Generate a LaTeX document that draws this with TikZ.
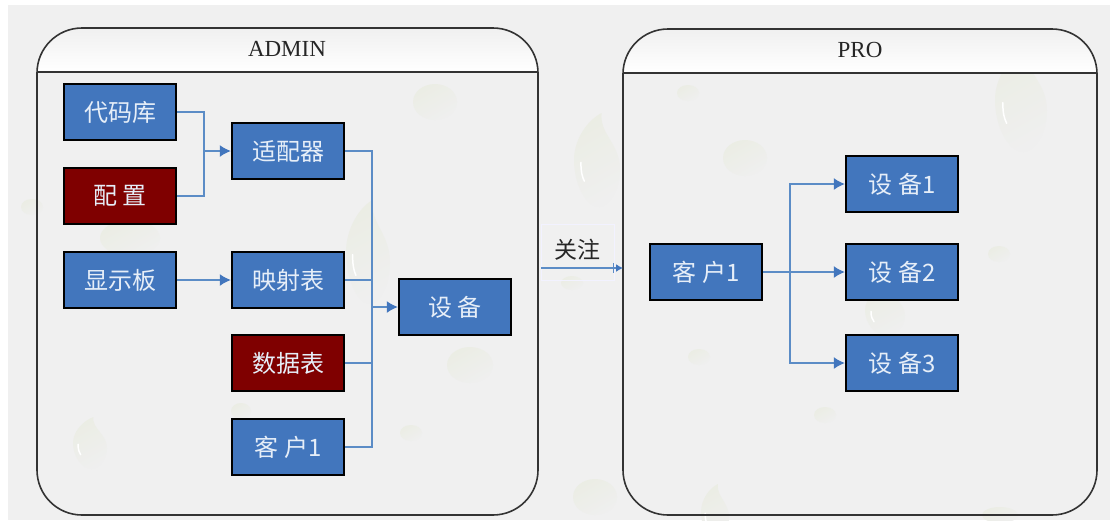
\documentclass[tikz,border=0pt]{standalone}
\usepackage{fontspec}
\setmainfont{Liberation Serif}
\newfontfamily\cjk{Noto Sans CJK SC}
\usetikzlibrary{arrows.meta}
\definecolor{pagegray}{HTML}{F0F0F0}
\definecolor{boxblue}{HTML}{4276BD}
\definecolor{boxred}{HTML}{7F0000}
\definecolor{linkblue}{HTML}{5B8CC6}
\definecolor{leaf}{HTML}{EBEDE4}
\definecolor{leafend}{HTML}{EFEFEF}
\definecolor{panelline}{HTML}{333333}
\definecolor{boxtext}{HTML}{E6EEF8}
\tikzset{
  x=1pt,y=-1pt,
  boxbase/.style={draw=black,line width=2.4pt,minimum width=112pt,minimum height=56pt,inner sep=0pt,text=boxtext,font=\cjk\fontsize{24}{24}\selectfont},
  bluebox/.style={boxbase,fill=boxblue},
  redbox/.style={boxbase,fill=boxred},
  link/.style={draw=linkblue,line width=1.4pt},
  arrowlink/.style={link,-{Latex[length=11pt,width=12pt,color=boxblue]}},
  paneltitle/.style={font=\fontsize{23}{23}\selectfont,text=black!85,inner sep=0pt},
  panelborder/.style={panelline,line width=1.6pt},
  dropfill/.style={left color=leaf,right color=leafend,shading angle=30,draw=none}
}
\newcommand{\blobdrop}[4]{\path[dropfill] (#1,#2) ellipse [x radius=#3, y radius=#4];}
\newcommand{\teardrop}[4]{%
  \begin{scope}[shift={(#1,#2)},x=#3pt,y=-#4pt]
    \path[dropfill] (0.2,-1) .. controls (0.1,-0.55) and (1,-0.35) .. (1,0.2)
      .. controls (1,0.7) and (0.45,1) .. (0.1,1)
      .. controls (-0.5,1) and (-1,0.5) .. (-1,0)
      .. controls (-1,-0.45) and (-0.4,-0.85) .. (0.2,-1) -- cycle;
    \draw[white,line width=1.5pt,line cap=round] (-0.7,0.05) .. controls (-0.7,0.25) and (-0.65,0.35) .. (-0.55,0.45);
  \end{scope}}
\begin{document}
\begin{tikzpicture}
\useasboundingbox (0,0) rectangle (1110,520);
\fill[white] (0,0) rectangle (1110,520);
\fill[pagegray] (8,5) rectangle (1110,520);
% droplets
\blobdrop{435}{102}{22}{18}
\blobdrop{745}{158}{22}{18}
\blobdrop{688}{93}{11}{8}
\blobdrop{130}{238}{30}{18}
\blobdrop{470}{365}{23}{18}
\blobdrop{411}{433}{11}{8}
\blobdrop{595}{497}{22}{18}
\blobdrop{825}{415}{11}{8}
\blobdrop{699}{357}{11}{8}
\blobdrop{999}{254}{11}{8}
\blobdrop{32}{207}{11}{8}
\blobdrop{572}{283}{11}{7}
\blobdrop{241}{411}{10}{8}
\blobdrop{1000}{515}{18}{8}
\teardrop{597}{160}{23}{47}
\teardrop{1021}{100}{26}{52}
\teardrop{368}{252}{22}{52}
\teardrop{90}{443}{17}{26}
\teardrop{885}{310}{20}{26}
\teardrop{715}{512}{14}{28}
% panels
\path[top color=pagegray,bottom color=white,rounded corners=45pt] (37,72) -- (37,28) -- (538,28) [sharp corners] -- (538,72) -- cycle;
\path[top color=pagegray,bottom color=white,rounded corners=45pt] (623,73) -- (623,29) -- (1097,29) [sharp corners] -- (1097,73) -- cycle;
\draw[panelborder,rounded corners=45pt] (37,270) -- (37,28) -- (538,28) -- (538,515) -- (37,515) -- cycle;
\draw[panelborder] (37,72) -- (538,72);
\draw[panelborder,rounded corners=45pt] (623,270) -- (623,29) -- (1097,29) -- (1097,515) -- (623,515) -- cycle;
\draw[panelborder] (623,73) -- (1097,73);
\node[paneltitle] (admintitle) at (287,49) {ADMIN};
\node[paneltitle] (protitle) at (860,50) {PRO};
% boxes
\node[bluebox] (repo) at (120,112) {\raisebox{1pt}{代码库}};
\node[redbox] (config) at (120,196) {\raisebox{1pt}{配 置}};
\node[bluebox] (adapter) at (288,151) {\raisebox{1pt}{适配器}};
\node[bluebox] (board) at (120,280) {\raisebox{1pt}{显示板}};
\node[bluebox] (mapping) at (288,280) {\raisebox{1pt}{映射表}};
\node[redbox] (datatable) at (288,363) {\raisebox{1pt}{数据表}};
\node[bluebox] (client) at (288,447) {\raisebox{1pt}{客 户1}};
\node[bluebox] (device) at (455,307) {\raisebox{1pt}{设 备}};
\node[bluebox] (proclient) at (706,272) {\raisebox{1pt}{客 户1}};
\node[bluebox] (dev1) at (902,184) {\raisebox{1pt}{设 备1}};
\node[bluebox] (dev2) at (902,272) {\raisebox{1pt}{设 备2}};
\node[bluebox] (dev3) at (902,363) {\raisebox{1pt}{设 备3}};
% follow label
\node[draw=blue!5,line width=.8pt,minimum width=73pt,minimum height=56pt,inner sep=0pt] (followbox) at (577.5,252) {};
\node[font=\cjk\fontsize{23}{23}\selectfont,text=black!85,inner sep=0pt] (follow) at (577,250) {关注};
% connectors
\coordinate (busa) at (204,151);
\coordinate (busb) at (372,307);
\coordinate (busc) at (790,272);
\coordinate (followstart) at (541,268);
\coordinate (followend) at (623,268);
\draw[link] (repo.east) -| (busa);
\draw[link] (config.east) -| (busa);
\draw[arrowlink] (busa) -- (adapter.west);
\draw[arrowlink] (board.east) -- (mapping.west);
\draw[link] (adapter.east) -| (busb);
\draw[link] (mapping.east) -| (busb);
\draw[link] (datatable.east) -| (busb);
\draw[link] (client.east) -| (busb);
\draw[arrowlink] (busb) -- (device.west);
\draw[link] (proclient.east) -- (busc);
\draw[arrowlink] (busc) |- (dev1.west);
\draw[arrowlink] (busc) -- (dev2.west);
\draw[arrowlink] (busc) |- (dev3.west);
\draw[link,-{Latex[length=7pt,width=8pt,color=boxblue]}] (followstart) -- (followend);
\draw[link,line width=1pt] (613,263) -- (613,273);
\end{tikzpicture}
\end{document}
